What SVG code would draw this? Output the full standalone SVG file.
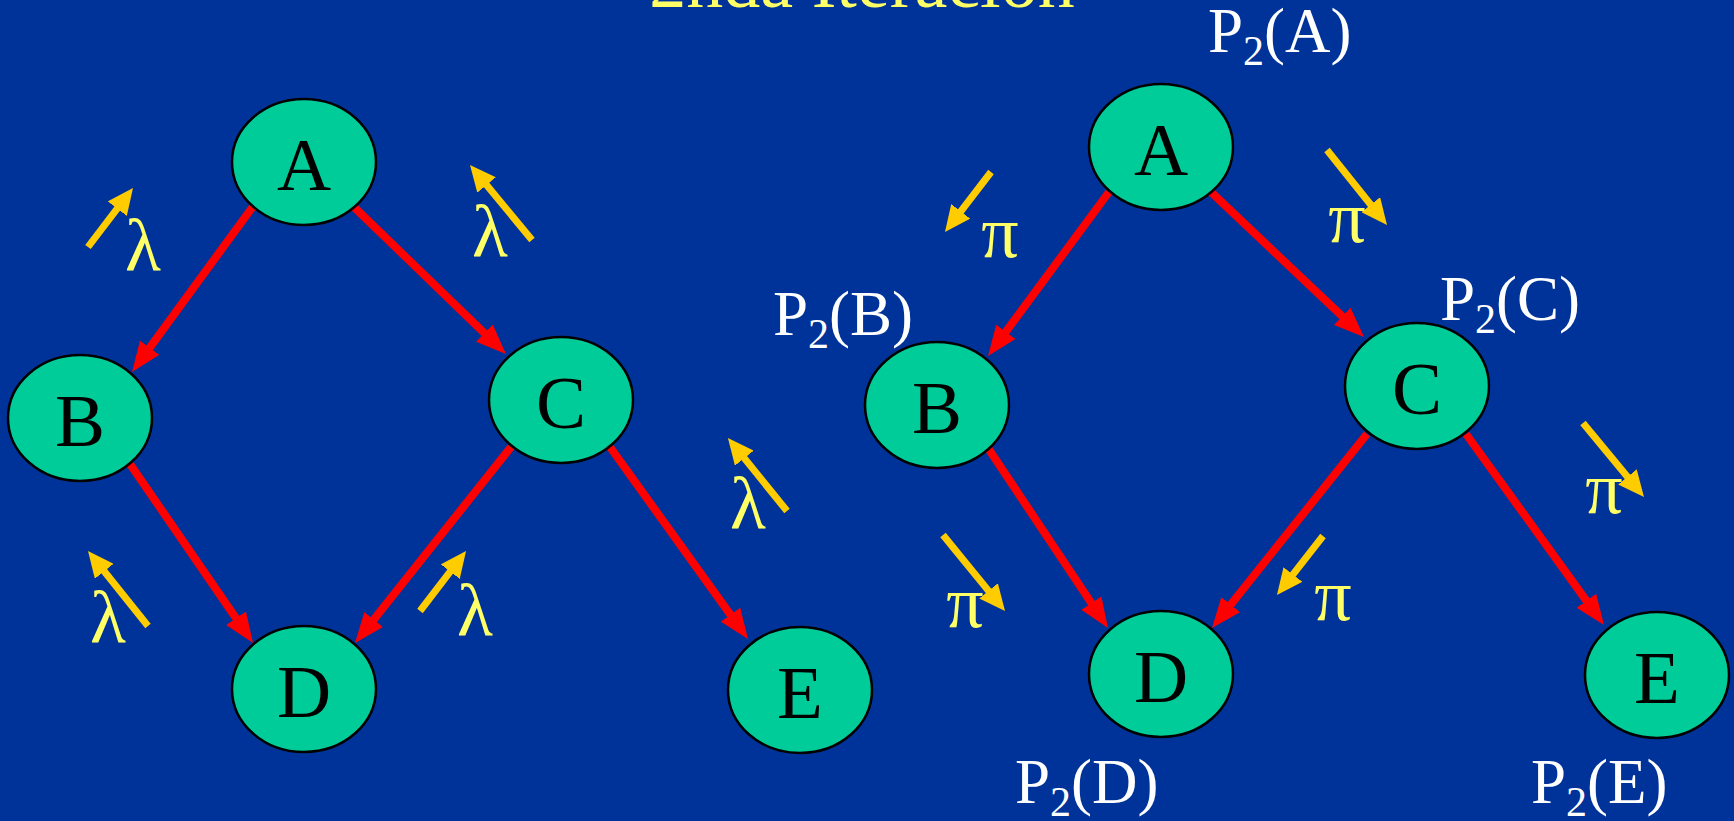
<svg xmlns="http://www.w3.org/2000/svg" width="1734" height="821" viewBox="0 0 1734 821">
<style>
.bg{fill:#003399}
.node ellipse{fill:#00CC99;stroke:#000;stroke-width:2.5}
.node text{font-family:"Liberation Serif","Times New Roman",serif;font-size:75px;fill:#000;text-anchor:middle}
.edge{stroke:#FF0000;stroke-width:8;fill:none;marker-end:url(#redHead)}
.flow{stroke:#FFCC00;stroke-width:7;fill:none;marker-end:url(#yelHead)}
.greek{font-family:"Liberation Serif","Times New Roman",serif;font-size:74px;fill:#FFFF66;text-anchor:middle}
.plab{font-family:"Liberation Serif","Times New Roman",serif;font-size:63px;fill:#FFFFFF}
.sub{font-size:42px}
.title{font-family:"Liberation Serif","Times New Roman",serif;font-size:74px;fill:#FFFF66;text-anchor:middle}
</style>
<defs>
<marker id="redHead" markerUnits="userSpaceOnUse" viewBox="0 0 30 24" markerWidth="30" markerHeight="24" refX="10" refY="12" orient="auto">
<path d="M0,0 L30,12 L0,24 z" fill="#FF0000"/>
</marker>
<marker id="yelHead" markerUnits="userSpaceOnUse" viewBox="0 0 26 24" markerWidth="26" markerHeight="24" refX="10" refY="12" orient="auto">
<path d="M0,0 L26,12 L0,24 z" fill="#FFCC00"/>
</marker>
</defs>
<rect class="bg" x="0" y="0" width="1734" height="821"/>
<text class="title" x="862" y="7">2nda Iteración</text>

<g id="connectors">
<line class="edge" x1="254" y1="205" x2="143.8" y2="355.8"/>
<line class="edge" x1="354" y1="207" x2="491.6" y2="340.1"/>
<line class="edge" x1="130" y1="464" x2="241.7" y2="626.5"/>
<line class="edge" x1="511" y1="447" x2="367.5" y2="627.4"/>
<line class="edge" x1="610" y1="447" x2="736.3" y2="622.8"/>
<line class="edge" x1="1109" y1="192" x2="999.9" y2="339.9"/>
<line class="edge" x1="1211" y1="192" x2="1349.5" y2="323.2"/>
<line class="edge" x1="988" y1="448" x2="1096.9" y2="611.4"/>
<line class="edge" x1="1367" y1="434" x2="1224.5" y2="612.4"/>
<line class="edge" x1="1466" y1="434" x2="1592.3" y2="608.8"/>
</g>

<g id="flows">
<line class="flow" x1="88" y1="247" x2="123.3" y2="200.7"/>
<line class="flow" x1="532" y1="240" x2="480.2" y2="177.3"/>
<line class="flow" x1="148" y1="626" x2="98" y2="563.5"/>
<line class="flow" x1="420" y1="611" x2="456.3" y2="563.7"/>
<line class="flow" x1="787" y1="511" x2="738" y2="450.4"/>
<line class="flow" x1="991" y1="172" x2="954.7" y2="219.3"/>
<line class="flow" x1="1327" y1="150" x2="1377" y2="212.5"/>
<line class="flow" x1="943" y1="535" x2="994.9" y2="598.6"/>
<line class="flow" x1="1323" y1="536" x2="1286.8" y2="582.4"/>
<line class="flow" x1="1583" y1="423" x2="1633.8" y2="484.6"/>
</g>

<g id="greek-labels">
<text class="greek" x="143" y="270">λ</text>
<text class="greek" x="490" y="256">λ</text>
<text class="greek" x="108" y="642">λ</text>
<text class="greek" x="475" y="635">λ</text>
<text class="greek" x="748" y="528">λ</text>
<text class="greek" x="1000" y="257">π</text>
<text class="greek" x="1347" y="242">π</text>
<text class="greek" x="965" y="627">π</text>
<text class="greek" x="1333" y="620">π</text>
<text class="greek" x="1604" y="513">π</text>
</g>

<g id="left-A" class="node"><ellipse cx="304" cy="162" rx="72" ry="63"/><text x="304" y="190">A</text></g>
<g id="left-B" class="node"><ellipse cx="80" cy="418" rx="72" ry="63"/><text x="80" y="446">B</text></g>
<g id="left-C" class="node"><ellipse cx="561" cy="400" rx="72" ry="63"/><text x="561" y="428">C</text></g>
<g id="left-D" class="node"><ellipse cx="304" cy="689" rx="72" ry="63"/><text x="304" y="717">D</text></g>
<g id="left-E" class="node"><ellipse cx="800" cy="690" rx="72" ry="63"/><text x="800" y="718">E</text></g>

<g id="right-A" class="node"><ellipse cx="1161" cy="147" rx="72" ry="63"/><text x="1161" y="175">A</text></g>
<g id="right-B" class="node"><ellipse cx="937" cy="405" rx="72" ry="63"/><text x="937" y="433">B</text></g>
<g id="right-C" class="node"><ellipse cx="1417" cy="386" rx="72" ry="63"/><text x="1417" y="414">C</text></g>
<g id="right-D" class="node"><ellipse cx="1161" cy="674" rx="72" ry="63"/><text x="1161" y="702">D</text></g>
<g id="right-E" class="node"><ellipse cx="1657" cy="675" rx="72" ry="63"/><text x="1657" y="703">E</text></g>

<g id="p-labels">
<text class="plab" x="1208" y="52">P<tspan class="sub" dy="13">2</tspan><tspan dy="-13">(A)</tspan></text>
<text class="plab" x="773" y="335">P<tspan class="sub" dy="13">2</tspan><tspan dy="-13">(B)</tspan></text>
<text class="plab" x="1440" y="320">P<tspan class="sub" dy="13">2</tspan><tspan dy="-13">(C)</tspan></text>
<text class="plab" x="1015" y="803">P<tspan class="sub" dy="13">2</tspan><tspan dy="-13">(D)</tspan></text>
<text class="plab" x="1531" y="803">P<tspan class="sub" dy="13">2</tspan><tspan dy="-13">(E)</tspan></text>
</g>
</svg>
